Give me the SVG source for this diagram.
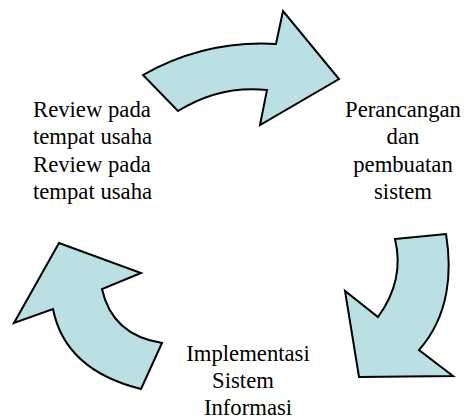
<svg xmlns="http://www.w3.org/2000/svg" width="466" height="419" viewBox="0 0 466 419">
<style>
.arrow{fill:#bae0e3;stroke:#000;stroke-width:2;stroke-linejoin:miter}
.lbl{font-family:'Liberation Serif','Times New Roman',Times,serif;font-size:22.7px}
.mid{text-anchor:middle}
</style>
<rect width="466" height="419" fill="#fff"/>
<g id="connectors">
<path id="arrow-top" class="arrow" d="M143,75 Q205,40 276,44 L283,11 L339,79 L260,125 L267,90 Q220,85 178,111 Z"/>
<path id="arrow-right" class="arrow" d="M395,239 L446,234 C452,270 450,315 419,350 L453,376 L359,377 L345,291 L378,317 Q405,280 395,239 Z"/>
<path id="arrow-left" class="arrow" d="M59,243 L141,273 L102,289 Q112,335 162,343 L141,389 Q65,370 53,309 L14,323 Z"/>
</g>
<g id="node-review">
<text class="lbl" style="font-family:'Liberation Serif',serif" x="33" y="117">Review pada</text>
<text class="lbl" style="font-family:'Liberation Serif',serif" x="33" y="144.3">tempat usaha</text>
<text class="lbl" style="font-family:'Liberation Serif',serif" x="33" y="171.6">Review pada</text>
<text class="lbl" style="font-family:'Liberation Serif',serif" x="33" y="199">tempat usaha</text>
</g>
<g id="node-perancangan">
<text class="lbl mid" style="font-family:'Liberation Serif',serif" x="403" y="117">Perancangan</text>
<text class="lbl mid" style="font-family:'Liberation Serif',serif" x="403" y="144.3">dan</text>
<text class="lbl mid" style="font-family:'Liberation Serif',serif" x="403" y="171.6">pembuatan</text>
<text class="lbl mid" style="font-family:'Liberation Serif',serif" x="403" y="199">sistem</text>
</g>
<g id="node-implementasi">
<text class="lbl mid" style="font-family:'Liberation Serif',serif" x="248" y="360.5">Implementasi</text>
<text class="lbl mid" style="font-family:'Liberation Serif',serif" x="243" y="388">Sistem</text>
<text class="lbl mid" style="font-family:'Liberation Serif',serif" x="248" y="415">Informasi</text>
</g>
</svg>
